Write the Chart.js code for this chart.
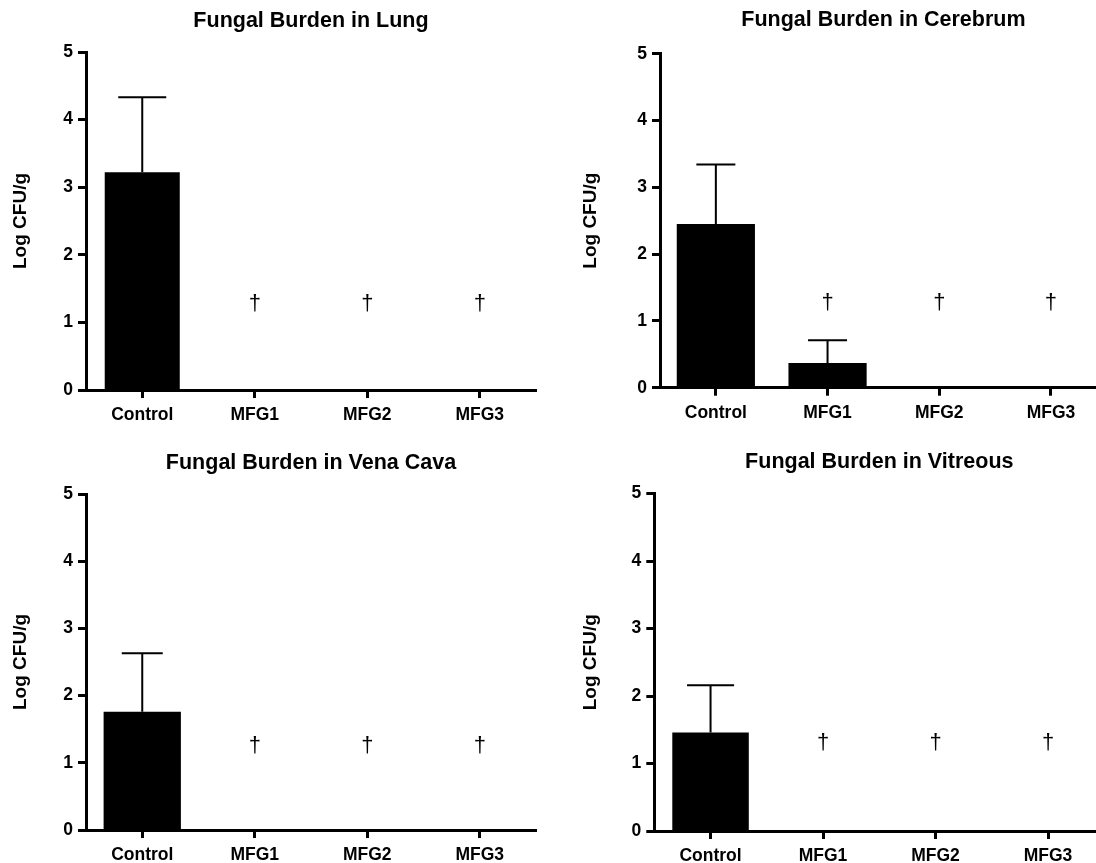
<!DOCTYPE html>
<html><head><meta charset="utf-8">
<script src="https://cdn.jsdelivr.net/npm/chart.js@4.4.1/dist/chart.umd.min.js"></script>
<style>
html,body{margin:0;padding:0;background:#fff;overflow:hidden;width:1096px;height:863px;position:relative;}
canvas{position:absolute;}
</style></head><body>
<canvas id="cLung" width="560" height="432" style="left:0px;top:0px"></canvas>
<canvas id="cCereb" width="560" height="432" style="left:560px;top:0px"></canvas>
<canvas id="cVena" width="560" height="431" style="left:0px;top:432px"></canvas>
<canvas id="cVitr" width="560" height="431" style="left:560px;top:432px"></canvas>
<script>
// ---- data ----
const categories = ['Control', 'MFG1', 'MFG2', 'MFG3'];
const yTickValues = [0, 1, 2, 3, 4, 5];
const yAxisLabel = 'Log CFU/g';

const lungTitle = 'Fungal Burden in Lung';
const lungMean = [3.22, 0, 0, 0];
const lungErr = [1.11, null, null, null];
const lungDagger = [null, 1.28, 1.28, 1.28];

const cerebTitle = 'Fungal Burden in Cerebrum';
const cerebMean = [2.45, 0.37, 0, 0];
const cerebErr = [0.89, 0.34, null, null];
const cerebDagger = [null, 1.27, 1.27, 1.27];

const venaTitle = 'Fungal Burden in Vena Cava';
const venaMean = [1.76, 0, 0, 0];
const venaErr = [0.87, null, null, null];
const venaDagger = [null, 1.25, 1.25, 1.25];

const vitrTitle = 'Fungal Burden in Vitreous';
const vitrMean = [1.46, 0, 0, 0];
const vitrErr = [0.70, null, null, null];
const vitrDagger = [null, 1.30, 1.30, 1.30];

// ---- drawing ----
const FONT = '"Liberation Sans", Arial, Helvetica, sans-serif';

function makePanel(id, title, mean, err, dagger, st) {
  const overlay = {
    id: 'errDagger',
    afterDatasetsDraw(chart) {
      const ctx = chart.ctx;
      const xs = chart.scales.x, ys = chart.scales.y;
      const meta = chart.getDatasetMeta(0);
      ctx.save();
      ctx.strokeStyle = '#000';
      ctx.lineWidth = 2;
      mean.forEach((m, i) => {
        if (err[i] == null) return;
        const x = meta.data[i].x;
        const y0 = ys.getPixelForValue(m);
        const y1 = ys.getPixelForValue(m + err[i]);
        ctx.beginPath();
        ctx.moveTo(x, y0); ctx.lineTo(x, y1);
        ctx.moveTo(x - st.cap / 2, y1); ctx.lineTo(x + st.cap / 2, y1);
        ctx.stroke();
      });
      ctx.fillStyle = '#000';
      ctx.font = '22px ' + FONT;
      ctx.textAlign = 'center';
      ctx.textBaseline = 'middle';
      dagger.forEach((d, i) => {
        if (d == null) return;
        ctx.fillText('\u2020', xs.getPixelForValue(i), ys.getPixelForValue(d));
      });
      ctx.restore();
    }
  };
  new Chart(document.getElementById(id), {
    type: 'bar',
    data: {
      labels: categories,
      datasets: [{
        data: mean,
        backgroundColor: '#000',
        borderWidth: 0,
        barPercentage: st.barPct,
        categoryPercentage: 1.0
      }]
    },
    options: {
      responsive: false,
      animation: false,
      devicePixelRatio: 1,
      layout: { padding: { left: 0, right: st.padRight, top: 0, bottom: 0 } },
      plugins: {
        legend: { display: false },
        tooltip: { enabled: false },
        title: {
          display: true,
          text: title,
          fullSize: false,
          color: '#000',
          font: { family: FONT, size: 21.5, weight: 'bold' },
          padding: { top: st.titleTop, bottom: st.titleBottom }
        }
      },
      scales: {
        x: {
          offset: true,
          grid: { display: true, offset: false, drawOnChartArea: false, drawTicks: true, tickLength: 8, tickWidth: 3, tickColor: '#000' },
          border: { display: true, color: '#000', width: 3 },
          ticks: { color: '#000', font: { family: FONT, size: 17.5, weight: 'bold' }, padding: 7, autoSkip: false, maxRotation: 0 },
          afterFit: (s) => { s.height = st.xHeight; }
        },
        y: {
          min: yTickValues[0],
          max: yTickValues[yTickValues.length - 1],
          afterBuildTicks: (s) => { s.ticks = yTickValues.map(v => ({ value: v })); },
          grid: { display: true, drawOnChartArea: false, drawTicks: true, tickLength: 8, tickWidth: 3, tickColor: '#000' },
          border: { display: true, color: '#000', width: 3 },
          ticks: { color: '#000', font: { family: FONT, size: 17.5, weight: 'bold' }, padding: 5 },
          title: {
            display: true, text: yAxisLabel, color: '#000',
            font: { family: FONT, size: 19, weight: 'bold' },
            padding: { top: st.axisTitlePad, bottom: 0 }
          },
          afterFit: (s) => { s.width = st.yWidth; }
        }
      }
    },
    plugins: [overlay]
  });
}

makePanel('cLung', lungTitle, lungMean, lungErr, lungDagger,
  { padRight: 24, titleTop: 8, titleBottom: 18.2, yWidth: 86, axisTitlePad: 9.1, xHeight: 42, barPct: 0.667, cap: 48 });
makePanel('cCereb', cerebTitle, cerebMean, cerebErr, cerebDagger,
  { padRight: 13.2, titleTop: 7.5, titleBottom: 20.4, yWidth: 100, axisTitlePad: 19.1, xHeight: 44.3, barPct: 0.70, cap: 39 });
makePanel('cVena', venaTitle, venaMean, venaErr, venaDagger,
  { padRight: 24, titleTop: 18.6, titleBottom: 17.6, yWidth: 86, axisTitlePad: 9, xHeight: 33, barPct: 0.687, cap: 41 });
makePanel('cVitr', vitrTitle, vitrMean, vitrErr, vitrDagger,
  { padRight: 15.7, titleTop: 16.9, titleBottom: 18.8, yWidth: 94.3, axisTitlePad: 19.1, xHeight: 32, barPct: 0.68, cap: 47 });
</script>
</body></html>
